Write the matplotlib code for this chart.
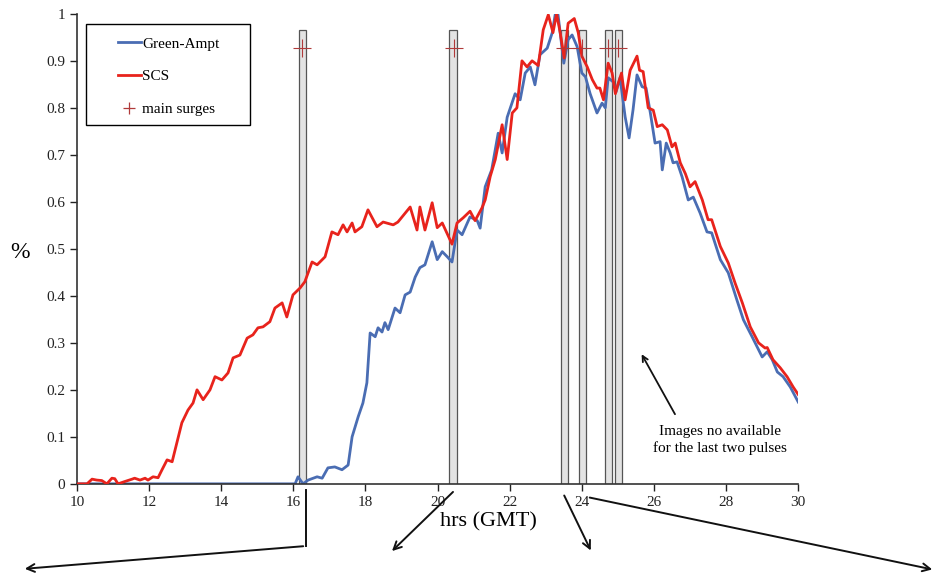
import numpy as np
import matplotlib.pyplot as plt
from matplotlib.patches import Rectangle, FancyArrowPatch
from matplotlib.lines import Line2D

plt.rcParams['font.family'] = ['Liberation Serif', 'DejaVu Serif']

# SCS curve (red)
scs_x = [10.0, 10.28, 10.42, 10.55, 10.69, 10.83, 10.97, 11.05, 11.14, 11.33, 11.53, 11.6,
         11.75, 11.89, 11.97, 12.11, 12.25, 12.36, 12.5, 12.64, 12.77, 12.91, 13.08, 13.22,
         13.33, 13.5, 13.69, 13.83, 14.02, 14.19, 14.33, 14.52, 14.72, 14.88, 15.02, 15.16,
         15.35, 15.49, 15.69, 15.82, 15.99, 16.19, 16.32, 16.52, 16.66, 16.8, 16.88, 17.07,
         17.24, 17.38, 17.49, 17.63, 17.71, 17.9, 18.07, 18.32, 18.49, 18.77, 18.9, 19.1,
         19.24, 19.43, 19.51, 19.65, 19.85, 19.99, 20.13, 20.4, 20.54, 20.71, 20.9, 21.04,
         21.23, 21.32, 21.46, 21.6, 21.79, 21.93, 22.07, 22.2, 22.34, 22.48, 22.62, 22.79,
         22.93, 23.07, 23.2, 23.3, 23.4, 23.51, 23.62, 23.79, 23.9, 24.0, 24.15, 24.29,
         24.42, 24.5, 24.6, 24.73, 24.84, 24.93, 25.0, 25.1, 25.2, 25.34, 25.53, 25.6,
         25.7, 25.84, 25.98, 26.09, 26.23, 26.37, 26.5, 26.59, 26.73, 26.87, 27.0, 27.14,
         27.34, 27.5, 27.6, 27.84, 28.06, 28.25, 28.45, 28.67, 28.9, 29.08, 29.14, 29.3,
         29.5, 29.69, 29.86, 30.0]
scs_y = [0, 0, 0.01, 0.008, 0.007, 0, 0.012, 0.011, 0, 0.005, 0.01, 0.012,
         0.008, 0.012, 0.008, 0.015, 0.013, 0.03, 0.051, 0.047, 0.087, 0.13, 0.157, 0.172,
         0.2, 0.179, 0.2, 0.228, 0.221, 0.236, 0.268, 0.274, 0.31, 0.317, 0.332, 0.334,
         0.345, 0.374, 0.385, 0.355, 0.402, 0.417, 0.43, 0.472, 0.466, 0.477, 0.483, 0.536,
         0.53, 0.551, 0.536, 0.555, 0.536, 0.547, 0.583, 0.547, 0.557, 0.551, 0.557, 0.576,
         0.589, 0.54, 0.589, 0.54, 0.598, 0.545, 0.555, 0.51, 0.555, 0.566, 0.58, 0.56,
         0.587, 0.604, 0.654, 0.69, 0.764, 0.69, 0.789, 0.80, 0.90, 0.887, 0.90, 0.89,
         0.966, 0.998, 0.96, 1.0, 0.96, 0.906, 0.98, 0.99, 0.96, 0.91, 0.887, 0.86,
         0.842, 0.842, 0.817, 0.895, 0.874, 0.83, 0.85, 0.874, 0.817, 0.88, 0.91, 0.88,
         0.877, 0.80, 0.795, 0.76, 0.764, 0.753, 0.717, 0.725, 0.683, 0.66, 0.632, 0.643,
         0.604, 0.562, 0.562, 0.505, 0.47, 0.427, 0.385, 0.334, 0.30, 0.289, 0.29, 0.264,
         0.247, 0.228, 0.206, 0.19]

# Green-Ampt curve (blue)
ga_x = [10.0, 16.05, 16.13, 16.27, 16.41, 16.66, 16.8, 16.96, 17.15, 17.35, 17.52, 17.63,
        17.8, 17.93, 18.04, 18.13, 18.27, 18.35, 18.46, 18.54, 18.63, 18.82, 18.96, 19.1,
        19.24, 19.38, 19.51, 19.65, 19.85, 19.99, 20.13, 20.27, 20.4, 20.54, 20.68, 20.9,
        21.1, 21.18, 21.32, 21.5, 21.68, 21.79, 21.93, 22.15, 22.29, 22.43, 22.57, 22.7,
        22.84, 23.04, 23.18, 23.26, 23.34, 23.5, 23.62, 23.73, 23.87, 24.0, 24.1, 24.23,
        24.42, 24.56, 24.65, 24.73, 24.87, 24.95, 25.06, 25.2, 25.31, 25.42, 25.53, 25.67,
        25.78, 25.9, 26.03, 26.17, 26.23, 26.34, 26.45, 26.53, 26.64, 26.78, 26.95, 27.09,
        27.28, 27.47, 27.6, 27.84, 28.06, 28.3, 28.48, 28.72, 29.0, 29.14, 29.28, 29.42,
        29.58, 29.78, 30.0]
ga_y = [0, 0, 0.015, 0, 0.008, 0.015, 0.012, 0.034, 0.036, 0.03, 0.04, 0.1,
        0.143, 0.172, 0.215, 0.321, 0.313, 0.332, 0.323, 0.343, 0.328, 0.374, 0.364, 0.402,
        0.408, 0.44, 0.46, 0.466, 0.515, 0.477, 0.494, 0.483, 0.472, 0.54, 0.53, 0.568,
        0.56, 0.544, 0.632, 0.668, 0.746, 0.704, 0.78, 0.83, 0.817, 0.874, 0.887, 0.849,
        0.913, 0.927, 0.96, 0.998, 0.998, 0.895, 0.945, 0.955, 0.93, 0.874, 0.866, 0.83,
        0.789, 0.81, 0.80, 0.864, 0.855, 0.834, 0.864, 0.781, 0.736, 0.796, 0.870, 0.845,
        0.842, 0.789, 0.725, 0.728, 0.668, 0.725, 0.704, 0.683, 0.685, 0.653, 0.604, 0.61,
        0.576, 0.536, 0.534, 0.477, 0.449, 0.391, 0.349, 0.313, 0.27, 0.281, 0.264, 0.238,
        0.228, 0.206, 0.174]

# image windows (grey bars) and main surges
bar_x = [16.25, 20.43, 23.52, 24.01, 24.73, 25.01]
bar_h = 0.965
surge_x = [16.24, 20.46, 23.54, 24.0, 24.73, 25.0]
surge_y = [0.928] * len(surge_x)

blue = '#4a6db3'
red = '#e8231c'
surge_col = '#b03a3a'

fig = plt.figure(figsize=(9.38, 5.76), dpi=100)
ax = fig.add_axes([0.082, 0.16, 0.769, 0.816])

ax.bar(bar_x, bar_h, width=0.2, color='#e3e3e3', edgecolor='#555555', linewidth=0.9, zorder=1)
ax.plot(ga_x, ga_y, color=blue, lw=2.0, zorder=2)
ax.plot(scs_x, scs_y, color=red, lw=2.0, zorder=3)
ax.plot(surge_x, surge_y, ls='none', marker='+', ms=13, mew=0.8, color=surge_col, zorder=4)

ax.set_xlim(10, 30)
ax.set_ylim(0, 1)
ax.set_xticks(np.arange(10, 31, 2))
ax.set_yticks(np.arange(0, 1.01, 0.1))
ax.set_yticklabels(['0', '0.1', '0.2', '0.3', '0.4', '0.5', '0.6', '0.7', '0.8', '0.9', '1'])
ax.tick_params(labelsize=11, direction='out', length=5, width=1, colors='#222222')
for s in ['top', 'right']:
    ax.spines[s].set_visible(False)
for s in ['left', 'bottom']:
    ax.spines[s].set_color('#333333')
    ax.spines[s].set_linewidth(1.2)

ax.set_xlabel('hrs (GMT)', fontsize=16)
ax.xaxis.set_label_coords(0.571, -0.06)
ax.set_ylabel('%', fontsize=17, rotation=0)
ax.yaxis.set_label_coords(-0.079, 0.47)

# legend: frameless legend inside a hand-drawn box
handles = [Line2D([], [], color=blue, lw=2.0),
           Line2D([], [], color=red, lw=2.0),
           Line2D([], [], ls='none', marker='+', ms=8, mew=0.9, color=surge_col)]
ax.legend(handles, ['Green-Ampt', 'SCS', 'main surges'], loc='upper left',
          bbox_to_anchor=(0.057, 0.951), fontsize=11, frameon=False, borderpad=0,
          borderaxespad=0, handlelength=1.5, handletextpad=0.1, labelspacing=1.25)
ax.add_patch(Rectangle((0.0125, 0.764), 0.2275, 0.215, transform=ax.transAxes,
                       fill=False, edgecolor='black', lw=1.0, zorder=5, clip_on=False))

ax.text(27.84, 0.094, 'Images no available\nfor the last two pulses', ha='center',
        va='center', fontsize=11, linespacing=1.3)
ax.annotate('', xy=(25.62, 0.281), xytext=(26.62, 0.143),
            arrowprops=dict(arrowstyle='->', lw=1.3, color='#111111'))

# arrows below the axis, in figure pixels
fig.add_artist(Line2D([306, 306], [86, 30], transform=None, color='#111111', lw=1.4))
arrows = [((306, 30), (22, 7)), ((455, 86), (390, 23)),
          ((563, 83), (592, 23)), ((587, 79), (935, 6))]
for tail, head in arrows:
    fig.add_artist(FancyArrowPatch(tail, head, transform=None, arrowstyle='->',
                                   mutation_scale=14, lw=1.4, color='#111111'))

fig.savefig('out.png', dpi=100)
